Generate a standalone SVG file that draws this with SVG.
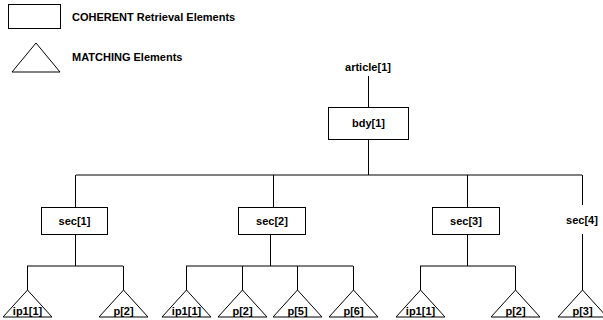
<svg xmlns="http://www.w3.org/2000/svg" width="603" height="320" viewBox="0 0 603 320">
<style>
text{font-family:"Liberation Sans",Arial,sans-serif;font-weight:bold;font-size:11px;fill:#000}
.c{text-anchor:middle}
.box{fill:#fff;stroke:#000;stroke-width:1}
.tri{fill:#fff;stroke:#000;stroke-width:1}
.ln{stroke:#000;stroke-width:1;fill:none}
</style>
<defs>
<polygon id="tri" class="tri" points="0,0 -24.5,27 24.5,27"/>
</defs>
<rect width="603" height="320" fill="#fff"/>
<g id="legend">
<rect class="box" x="8.5" y="4.5" width="52" height="24"/>
<text x="72" y="21">COHERENT Retrieval Elements</text>
<polygon class="tri" points="36,43 12,72 60,72"/>
<text x="72" y="61">MATCHING Elements</text>
</g>
<g id="connectors">
<path class="ln" d="M368.5,76V107.5M368.5,139.5V175M76,175H582"/>
<path class="ln" d="M75.5,175V207.5M75.5,234.5V266M27,266H123M27.5,266V290M123.5,266V290"/>
<path class="ln" d="M273.5,175V207.5M270.5,234.5V266M186,266H353M186.5,266V290M242.5,266V290M297.5,266V290M353.5,266V290"/>
<path class="ln" d="M467.5,175V207.5M467.5,234.5V266M420,266H515M420.5,266V290M515.5,266V290"/>
<path class="ln" d="M582.5,175V205M582.5,234V290"/>
</g>
<g id="article1"><text class="c" x="368" y="71">article[1]</text></g>
<g id="bdy1"><rect class="box" x="328.5" y="107.5" width="80" height="32"/><text class="c" x="368.5" y="127">bdy[1]</text></g>
<g id="sec1"><rect class="box" x="41.5" y="207.5" width="66" height="27"/><text class="c" x="74.5" y="225">sec[1]</text></g>
<g id="sec2"><rect class="box" x="238.5" y="207.5" width="67" height="27"/><text class="c" x="272" y="225">sec[2]</text></g>
<g id="sec3"><rect class="box" x="432.5" y="207.5" width="67" height="27"/><text class="c" x="466" y="225">sec[3]</text></g>
<g id="sec4"><text class="c" x="582" y="224">sec[4]</text></g>
<g id="s1ip1"><use href="#tri" x="27.5" y="290"/><text class="c" x="27.5" y="315">ip1[1]</text></g>
<g id="s1p2"><use href="#tri" x="123.5" y="290"/><text class="c" x="123.5" y="315">p[2]</text></g>
<g id="s2ip1"><use href="#tri" x="186.5" y="290"/><text class="c" x="186.5" y="315">ip1[1]</text></g>
<g id="s2p2"><use href="#tri" x="242.5" y="290"/><text class="c" x="242.5" y="315">p[2]</text></g>
<g id="s2p5"><use href="#tri" x="297.5" y="290"/><text class="c" x="297.5" y="315">p[5]</text></g>
<g id="s2p6"><use href="#tri" x="353.5" y="290"/><text class="c" x="353.5" y="315">p[6]</text></g>
<g id="s3ip1"><use href="#tri" x="420.5" y="290"/><text class="c" x="420.5" y="315">ip1[1]</text></g>
<g id="s3p2"><use href="#tri" x="515.5" y="290"/><text class="c" x="515.5" y="315">p[2]</text></g>
<g id="s4p3"><use href="#tri" x="582.5" y="290"/><text class="c" x="582.5" y="315">p[3]</text></g>
</svg>
